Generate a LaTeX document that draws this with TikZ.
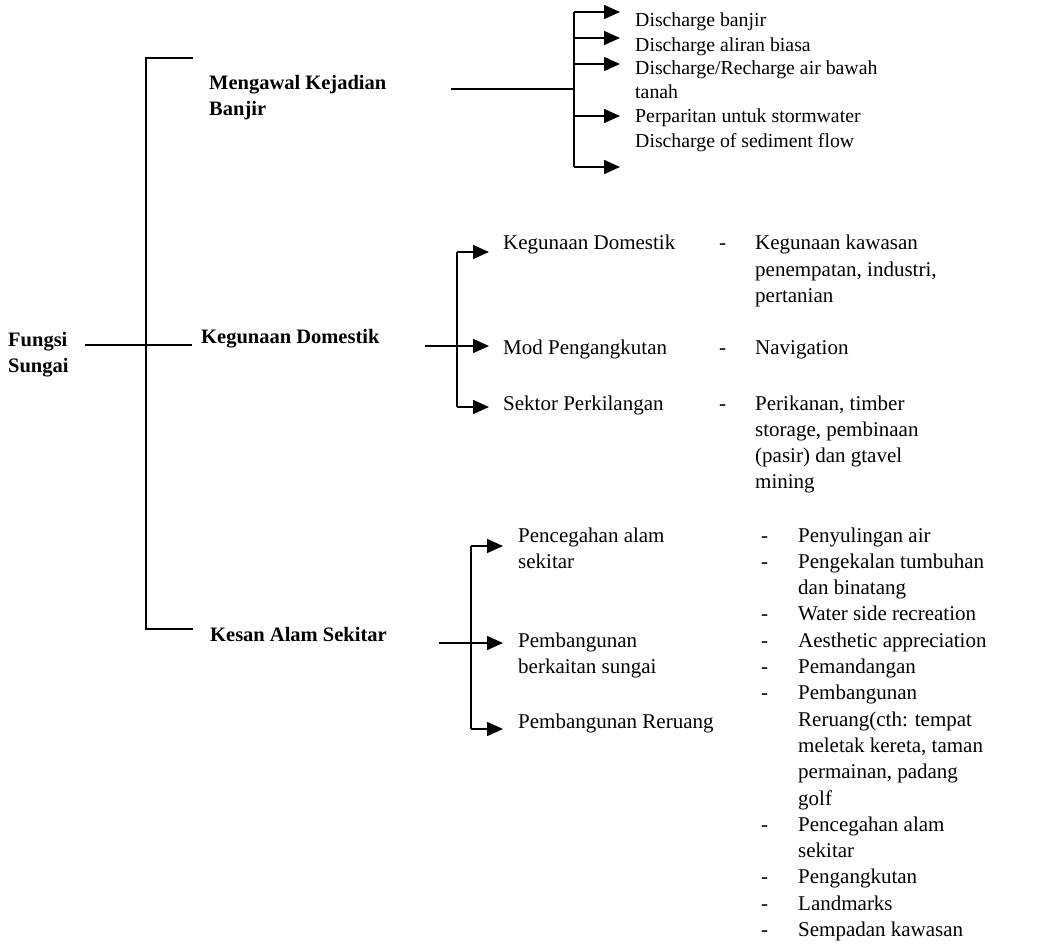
\documentclass[tikz,border=0pt]{standalone}
\usepackage{fontspec}
\setmainfont{Liberation Serif}
\usetikzlibrary{arrows.meta}
\begin{document}
\begin{tikzpicture}[x=1pt,y=-1pt,
  ln/.style={line width=1.5pt},
  arr/.style={ln,-{Triangle[length=16pt,width=14pt]}},
  txt/.style={anchor=base west,inner sep=0pt,align=left,font=\fontsize{21}{26.3}\selectfont},
  small/.style={txt,font=\fontsize{19.8}{24}\selectfont},
  bold/.style={txt,font=\bfseries\fontsize{20.5}{26}\selectfont}]
\useasboundingbox (0,0) rectangle (1037,944);

% level 1 and 2 labels (multi-line nodes placed at the baseline of their last line)
\node[bold] (fungsi) at (8,372) {Fungsi\\Sungai};
\node[bold] (mkb) at (209,116) {Mengawal Kejadian\\Banjir};
\node[bold] (kd) at (201,344) {Kegunaan Domestik};
\node[bold] (kas) at (210,641) {Kesan Alam Sekitar};

% main tree
\coordinate (m0) at (85,345);
\coordinate (m1) at (192,345);
\coordinate (mtop) at (146,58);
\coordinate (mtopE) at (193,58);
\coordinate (mbot) at (146,629);
\coordinate (mbotE) at (193,629);
\draw[ln] (m0) -- (m1);
\draw[ln] (mtopE) -- (mtop) -- (mbot) -- (mbotE);

% top branch
\coordinate (a0) at (451,89);
\coordinate (ab) at (574,89);
\coordinate (a1) at (574,12);
\coordinate (a2) at (574,38);
\coordinate (a3) at (574,64);
\coordinate (a4) at (574,116);
\coordinate (a5) at (574,167);
\coordinate (t1) at (620,12);
\coordinate (t2) at (620,38);
\coordinate (t3) at (620,64);
\coordinate (t4) at (620,116);
\coordinate (t5) at (620,167);
\draw[ln] (a0) -- (ab);
\draw[ln] (a1) -- (a5);
\foreach \i in {1,...,5} \draw[arr] (a\i) -- (t\i);
\node[small] (d1) at (635,27) {Discharge banjir};
\node[small] (d2) at (635,52) {Discharge aliran biasa};
\node[small] (d3) at (635,99) {Discharge/Recharge air bawah\\tanah};
\node[small] (d4) at (635,123) {Perparitan untuk stormwater};
\node[small] (d5) at (635,148) {Discharge of sediment flow};

% middle branch
\coordinate (b0) at (425,346);
\coordinate (b1) at (457,252);
\coordinate (b3) at (457,407);
\coordinate (u1) at (489,252);
\coordinate (u2) at (489,346);
\coordinate (u3) at (489,407);
\draw[ln] (b1) -- (b3);
\draw[arr] (b1) -- (u1);
\draw[arr] (b0) -- (u2);
\draw[arr] (b3) -- (u3);
\node[txt] (k1) at (503,250) {Kegunaan Domestik};
\node[txt] (k2) at (503,355) {Mod Pengangkutan};
\node[txt] (k3) at (503,410) {Sektor Perkilangan};
\node[txt] (h1) at (719,250) {-};
\node[txt] (h2) at (719,355) {-};
\node[txt] (h3) at (719,410) {-};
\node[txt] (r1) at (755,302.6) {Kegunaan kawasan\\penempatan, industri,\\pertanian};
\node[txt] (r2) at (755,355) {Navigation};
\node[txt] (r3) at (755,488.9) {Perikanan, timber\\storage, pembinaan\\(pasir) dan gtavel\\mining};

% bottom branch
\coordinate (c0) at (439,643);
\coordinate (c1) at (471,546);
\coordinate (c3) at (471,729);
\coordinate (v1) at (503,546);
\coordinate (v2) at (503,643);
\coordinate (v3) at (503,729);
\draw[ln] (c1) -- (c3);
\draw[arr] (c1) -- (v1);
\draw[arr] (c0) -- (v2);
\draw[arr] (c3) -- (v3);
\node[txt] (p1) at (518,568.3) {Pencegahan alam\\sekitar};
\node[txt] (p2) at (518,673.3) {Pembangunan\\berkaitan sungai};
\node[txt] (p3) at (518,728) {Pembangunan Reruang};
\node[txt] (list) at (761,542) {\begin{tabular}[t]{@{}p{37pt}@{}l@{}}
- & Penyulingan air\\
- & Pengekalan tumbuhan\\
  & dan binatang\\
- & Water side recreation\\
- & Aesthetic appreciation\\
- & Pemandangan\\
- & Pembangunan\\
  & Reruang(cth: tempat\\
  & meletak kereta, taman\\
  & permainan, padang\\
  & golf\\
- & Pencegahan alam\\
  & sekitar\\
- & Pengangkutan\\
- & Landmarks\\
- & Sempadan kawasan
\end{tabular}};
\end{tikzpicture}
\end{document}
